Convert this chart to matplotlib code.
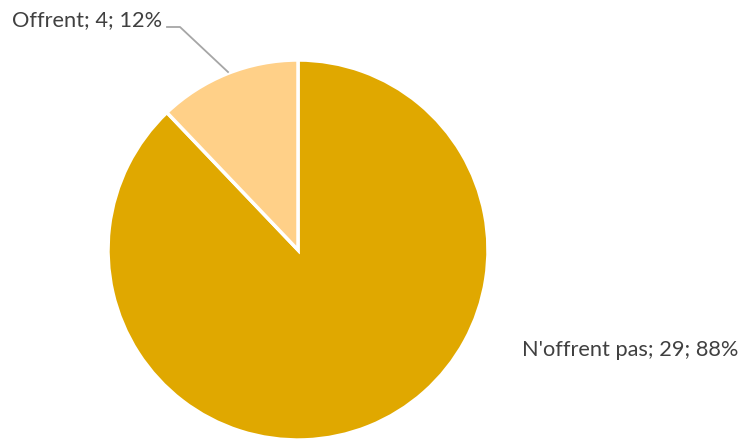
import matplotlib
matplotlib.use("Agg")
import matplotlib.pyplot as plt

categories = ["N'offrent pas", "Offrent"]
values = [29, 4]
percents = [88, 12]
colors = ["#E0A800", "#FFD088"]

W, H = 743, 440
fig = plt.figure(figsize=(W / 100, H / 100), dpi=100)
ax = fig.add_axes([0, 0, 1, 1])
ax.set_xlim(0, W)
ax.set_ylim(0, H)
ax.set_aspect("equal")
ax.axis("off")

cx, cy, r = 298, H - 250, 190
ax.pie(values, colors=colors, startangle=90, counterclock=False,
       center=(cx, cy), radius=r, frame=True,
       wedgeprops=dict(edgecolor="white", linewidth=2.5))
ax.set_xlim(0, W)
ax.set_ylim(0, H)
ax.axis("off")

labels = [f"{c}; {v}; {p}%" for c, v, p in zip(categories, values, percents)]
font = dict(family=["Lato", "DejaVu Sans"], fontsize=15.7, color="#404040")

ax.text(522, H - 350, labels[0], ha="left", va="center", **font)
ax.text(12, H - 20, labels[1], ha="left", va="center", **font)
ax.plot([167, 180, 228], [H - 27, H - 27, H - 72], color="#A6A6A6", lw=1.3)

fig.savefig("out.png", dpi=100)
